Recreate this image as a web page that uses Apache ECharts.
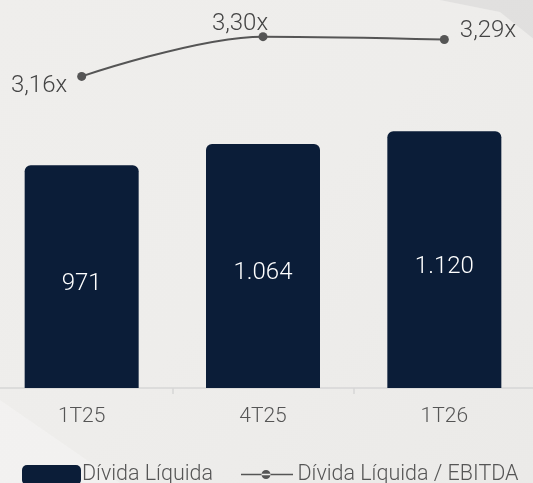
<!DOCTYPE html>
<html><head><meta charset="utf-8">
<script src="https://cdn.jsdelivr.net/npm/echarts@6/dist/echarts.min.js"></script>
<style>html,body{margin:0;padding:0;overflow:hidden;width:533px;height:483px;background:#eeedeb;}#c{position:absolute;left:-9px;top:0;width:544px;height:483px;}</style>
</head><body><div id="c"></div>
<script>
const categories = ['1T25', '4T25', '1T26'];
const dividaLiquida = [971, 1064, 1120];
const dividaLiquidaLabels = ['971', '1.064', '1.120'];
const alavancagem = [3.16, 3.30, 3.29];
const alavancagemLabels = ['3,16x', '3,30x', '3,29x'];
const labelOffsets = [[-5, 10], [-23, 9], [6, -8]];
const labelPositions = ['left', 'top', 'right'];

const font = 'Roboto';
const lineIcon = 'path://M0,8.7 H52 V10.3 H0 Z M20.5,9.5 A4.5,4.5 0 1,0 29.5,9.5 A4.5,4.5 0 1,0 20.5,9.5 Z M26,0 L26.01,0 L26,0.01 Z M26,20 L26.01,20 L26,19.99 Z';
const chart = echarts.init(document.getElementById('c'));
chart.setOption({
  backgroundColor: {
    type: 'linear', x: 0, y: 0, x2: 1, y2: 1,
    colorStops: [{offset: 0, color: '#efeeec'}, {offset: 0.5, color: '#eeedeb'}, {offset: 1, color: '#ebeae8'}]
  },
  animation: false,
  graphic: [
    {type: 'polygon', shape: {points: [[449, 0], [544, 0], [544, 40], [509, 12]]}, style: {fill: 'rgba(200,200,200,0.35)'}, z: -1},
    {type: 'polygon', shape: {points: [[9, 400], [129, 483], [9, 483]]}, style: {fill: 'rgba(255,255,255,0.25)'}, z: -1}
  ],
  grid: {left: 0, right: 0, top: 0, bottom: 95, containLabel: false},
  legend: {
    left: 31, top: 464, padding: 0,
    itemWidth: 59, itemHeight: 20, itemGap: 28,
    textStyle: {fontFamily: font, fontWeight: 300, fontSize: 21.5, color: '#555', padding: [0, 0, 0, -4]},
    data: [
      {name: 'Dívida Líquida', icon: 'roundRect'},
      {name: 'Dívida Líquida / EBITDA', icon: lineIcon}
    ]
  },
  xAxis: {
    type: 'category', data: categories,
    axisLine: {lineStyle: {color: '#d6d6d6', width: 1.5}},
    axisTick: {show: true, length: 6, lineStyle: {color: '#d6d6d6', width: 1.5}},
    axisLabel: {fontFamily: font, fontWeight: 300, fontSize: 21, color: '#555', margin: 18}
  },
  yAxis: [
    {type: 'value', min: 0, max: 1692, show: false, splitLine: {show: false}},
    {type: 'value', min: 2.063, max: 3.429, show: false, splitLine: {show: false}}
  ],
  series: [
    {
      name: 'Dívida Líquida', type: 'bar', barWidth: 114,
      itemStyle: {color: '#0b1d38', borderRadius: [6, 6, 0, 0]},
      label: {
        show: true, position: 'inside', offset: [0, 7],
        fontFamily: font, fontWeight: 300, fontSize: 24, color: '#ffffff',
        formatter: p => dividaLiquidaLabels[p.dataIndex]
      },
      data: dividaLiquida
    },
    {
      name: 'Dívida Líquida / EBITDA', type: 'line', yAxisIndex: 1,
      smooth: 0.35, symbol: 'circle', symbolSize: 9,
      lineStyle: {color: '#555555', width: 2},
      itemStyle: {color: '#555555'},
      data: alavancagem.map((v, i) => ({
        value: v,
        label: {show: true, position: labelPositions[i], offset: labelOffsets[i]}
      })),
      label: {
        fontFamily: font, fontWeight: 300, fontSize: 24, color: '#444',
        formatter: p => alavancagemLabels[p.dataIndex]
      }
    }
  ]
});
</script></body></html>
